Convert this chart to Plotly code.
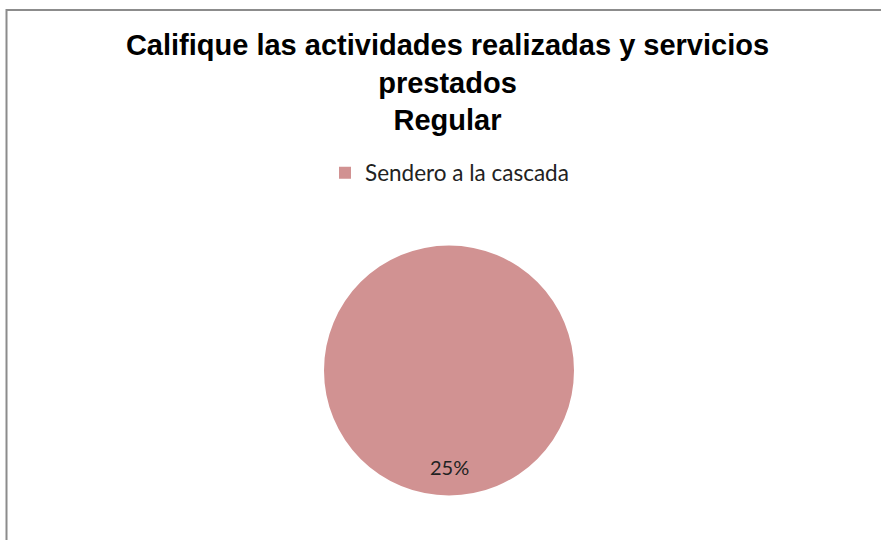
import plotly.graph_objects as go

W, H = 881, 540

# Data
labels = ["Sendero a la cascada"]
values = [25]
value_text = ["25%"]
title_lines = ["Califique las actividades realizadas y servicios", "prestados", "Regular"]
slice_colors = ["#D19292"]

fig = go.Figure()
fig.add_trace(go.Pie(
    labels=labels,
    values=values,
    text=value_text,
    textinfo="none",
    marker=dict(colors=slice_colors, line=dict(width=0)),
    sort=False,
    showlegend=True,
    domain=dict(x=[324 / W, 574 / W], y=[(H - 496) / H, (H - 245) / H]),
    hoverinfo="label+text",
))

# label of the slice (at the lower part of the circle, like the original)
fig.add_annotation(
    x=449 / W, y=(H - 467) / H, xref="paper", yref="paper",
    text=value_text[0], showarrow=False,
    font=dict(family="Lato, Carlito, Calibri, sans-serif", size=20, color="#222222"),
    xanchor="center", yanchor="middle",
)

# chart-area border (top and left edges visible)
fig.add_shape(type="rect", xref="paper", yref="paper",
              x0=6.5 / W, x1=1.05, y0=-0.05, y1=(H - 10) / H,
              line=dict(color="#8C8C8C", width=2), fillcolor="rgba(0,0,0,0)", layer="below")

fig.update_layout(
    width=W, height=H,
    margin=dict(l=0, r=0, t=0, b=0),
    paper_bgcolor="white",
    plot_bgcolor="white",
    title=dict(
        text="<b>" + "<br>".join(title_lines) + "</b>",
        x=447.5 / W, xanchor="center",
        y=(H - 55) / H, yanchor="top", yref="container",
        font=dict(family="Liberation Sans, Arial, sans-serif", size=29, color="black"),
    ),
    legend=dict(
        orientation="h",
        x=325 / W, xanchor="left",
        y=(H - 173) / H, yanchor="middle",
        font=dict(family="Lato, Carlito, Calibri, sans-serif", size=22.5, color="#222222"),
        bgcolor="rgba(0,0,0,0)",
    ),
)

fig.write_html("out.html", config={"displayModeBar": False},
               post_script="document.body.style.margin='0';")
